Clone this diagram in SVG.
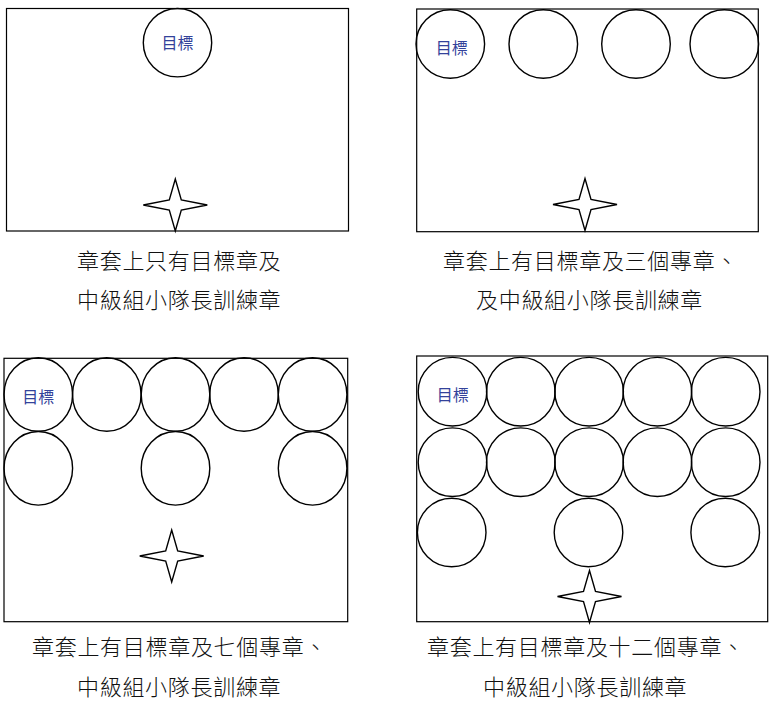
<svg xmlns="http://www.w3.org/2000/svg" xmlns:xlink="http://www.w3.org/1999/xlink" width="771" height="705" viewBox="0 0 771 705">
<style>
.frame{fill:#fff;stroke:#000;stroke-width:1.2}
.badge{fill:none;stroke:#000;stroke-width:1.4}
.star{fill:#fff;stroke:#000;stroke-width:1.4;stroke-linejoin:miter}
.lbl{font-family:"Noto Sans CJK TC","Noto Sans CJK SC",sans-serif;font-size:16px;fill:#33429a;text-anchor:middle}
.cap{font-family:"Noto Sans CJK TC","Noto Sans CJK SC",sans-serif;font-size:22px;font-weight:300;fill:#111;letter-spacing:0.7px}
</style>
<defs>
<path id="star" class="star" d="M-32,0 L-6,-5 L0,-26 L6,-5 L32,0 L6,5 L0,26 L-6,5 Z"/>
</defs>
<rect width="771" height="705" fill="#fff"/>

<g id="panel1">
<rect class="frame" x="6.5" y="8.5" width="342" height="222.5"/>
<g id="p1-target"><circle class="badge" cx="177.5" cy="42.7" r="34.2"/><text class="lbl" x="177.5" y="49">目標</text></g>
<use id="p1-star" xlink:href="#star" transform="translate(175.3,205)"/>
<text class="cap" x="77" y="269">章套上只有目標章及</text>
<text class="cap" x="77" y="308">中級組小隊長訓練章</text>
</g>

<g id="panel2">
<rect class="frame" x="416.7" y="9" width="341.6" height="222.7"/>
<g id="p2-target"><circle class="badge" cx="450.3" cy="44" r="34.3"/><text class="lbl" x="451.7" y="54">目標</text></g>
<circle class="badge" cx="543.3" cy="44" r="34.3"/>
<circle class="badge" cx="636" cy="44" r="34.3"/>
<circle class="badge" cx="724.3" cy="44" r="34.3"/>
<use id="p2-star" xlink:href="#star" transform="translate(585,204.5)"/>
<text class="cap" x="443" y="269">章套上有目標章及三個專章、</text>
<text class="cap" x="476" y="308">及中級組小隊長訓練章</text>
</g>

<g id="panel3">
<rect class="frame" x="4" y="358.3" width="343.7" height="263.4"/>
<g id="p3-target"><ellipse class="badge" cx="38.3" cy="394.5" rx="34.3" ry="36.8"/><text class="lbl" x="38.3" y="403">目標</text></g>
<ellipse class="badge" cx="106.8" cy="394.5" rx="34.3" ry="36.8"/>
<ellipse class="badge" cx="175.5" cy="394.5" rx="34.3" ry="36.8"/>
<ellipse class="badge" cx="244" cy="394.5" rx="34.3" ry="36.8"/>
<ellipse class="badge" cx="312.6" cy="394.5" rx="34.3" ry="36.8"/>
<ellipse class="badge" cx="38.3" cy="468.3" rx="34.3" ry="36.8"/>
<ellipse class="badge" cx="175.5" cy="468.3" rx="34.3" ry="36.8"/>
<ellipse class="badge" cx="312.6" cy="468.3" rx="34.3" ry="36.8"/>
<use id="p3-star" xlink:href="#star" transform="translate(171.7,556)"/>
<text class="cap" x="32" y="655">章套上有目標章及七個專章、</text>
<text class="cap" x="77" y="695">中級組小隊長訓練章</text>
</g>

<g id="panel4">
<rect class="frame" x="416.7" y="356" width="351" height="265.7"/>
<g id="p4-target"><circle class="badge" cx="452.5" cy="391.7" r="34.3"/><text class="lbl" x="452.7" y="401">目標</text></g>
<circle class="badge" cx="520.8" cy="391.7" r="34.3"/>
<circle class="badge" cx="589.1" cy="391.7" r="34.3"/>
<circle class="badge" cx="657.4" cy="391.7" r="34.3"/>
<circle class="badge" cx="725.7" cy="391.7" r="34.3"/>
<circle class="badge" cx="452.5" cy="462.2" r="34.3"/>
<circle class="badge" cx="520.8" cy="462.2" r="34.3"/>
<circle class="badge" cx="589.1" cy="462.2" r="34.3"/>
<circle class="badge" cx="657.4" cy="462.2" r="34.3"/>
<circle class="badge" cx="725.7" cy="462.2" r="34.3"/>
<circle class="badge" cx="451.7" cy="532.5" r="34.3"/>
<circle class="badge" cx="588.5" cy="532.5" r="34.3"/>
<circle class="badge" cx="725.2" cy="532.5" r="34.3"/>
<use id="p4-star" xlink:href="#star" transform="translate(589.5,596.5)"/>
<text class="cap" x="427" y="655">章套上有目標章及十二個專章、</text>
<text class="cap" x="483" y="695">中級組小隊長訓練章</text>
</g>
</svg>
